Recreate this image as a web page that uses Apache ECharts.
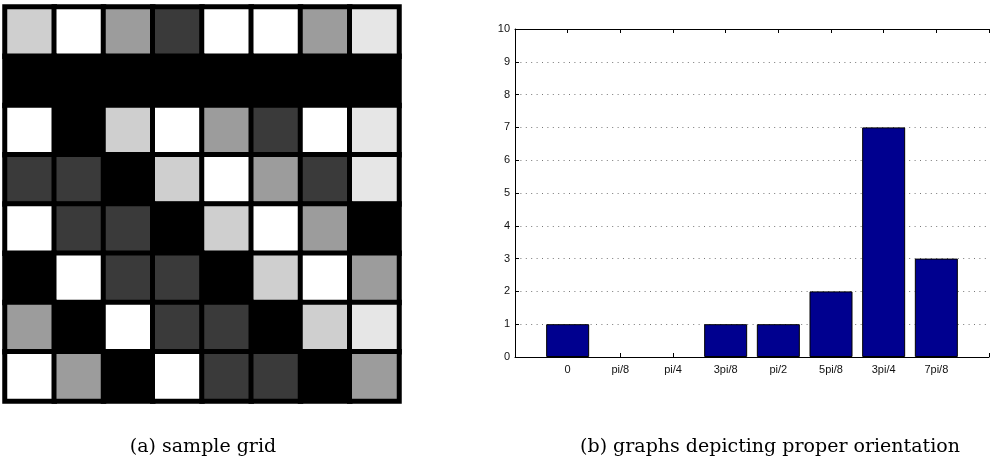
<!DOCTYPE html>
<html><head><meta charset="utf-8">
<script src="https://cdn.jsdelivr.net/npm/echarts@6/dist/echarts.min.js"></script>
<style>html,body{margin:0;padding:0;background:#fff;}#c{width:992px;height:466px;}</style>
</head><body><div id="c"></div>
<script>
// Grid shade levels: 0 black, 1 dark grey, 2 mid grey, 3 light grey, 4 very light grey, 5 white
const gridRow1 = [3, 5, 2, 1, 5, 5, 2, 4];
const gridRow2 = [0, 0, 0, 0, 0, 0, 0, 0];
const gridRow3 = [5, 0, 3, 5, 2, 1, 5, 4];
const gridRow4 = [1, 1, 0, 3, 5, 2, 1, 4];
const gridRow5 = [5, 1, 1, 0, 3, 5, 2, 0];
const gridRow6 = [0, 5, 1, 1, 0, 3, 5, 2];
const gridRow7 = [2, 0, 5, 1, 1, 0, 3, 4];
const gridRow8 = [5, 2, 0, 5, 1, 1, 0, 2];
const shadeColors = ['#000000', '#3a3a3a', '#9c9c9c', '#cfcfcf', '#e6e6e6', '#ffffff'];

const categories = ['0', 'pi/8', 'pi/4', '3pi/8', 'pi/2', '5pi/8', '3pi/4', '7pi/8'];
const counts = [1, 0, 0, 1, 1, 2, 7, 3];
const yTicks = [0, 1, 2, 3, 4, 5, 6, 7, 8, 9, 10];

const rows = [gridRow1, gridRow2, gridRow3, gridRow4, gridRow5, gridRow6, gridRow7, gridRow8];
const heatData = [];
rows.forEach((r, ri) => r.forEach((v, ci) => heatData.push([ci, ri, v])));

const chart = echarts.init(document.getElementById('c'), null, {renderer: 'canvas'});
const axisFont = {fontFamily: 'Liberation Sans, Arial, sans-serif', fontSize: 11, color: '#111'};
chart.setOption({
  animation: false,
  backgroundColor: '#fff',
  grid: [
    {left: 5, top: 7, width: 394, height: 394, show: true, backgroundColor: '#000', borderColor: '#000', borderWidth: 1},
    {left: 515, top: 29, width: 486, height: 328, show: false}
  ],
  xAxis: [
    {gridIndex: 0, type: 'category', data: [0,1,2,3,4,5,6,7], show: false},
    {gridIndex: 1, type: 'value', min: 0, max: 9, interval: 1,
      axisLine: {show: true, onZero: false, lineStyle: {color: '#000', width: 1}},
      axisTick: {show: true, inside: true, length: 4, lineStyle: {color: '#000'}},
      axisLabel: Object.assign({margin: 7, formatter: v => (v >= 1 && v <= categories.length) ? categories[v - 1] : ''}, axisFont),
      splitLine: {show: false}},
    {gridIndex: 1, type: 'value', position: 'top', min: 0, max: 9, interval: 1,
      axisLine: {show: true, onZero: false, lineStyle: {color: '#000', width: 1}},
      axisTick: {show: true, inside: true, length: 4, lineStyle: {color: '#000'}},
      axisLabel: {show: false}, splitLine: {show: false}}
  ],
  yAxis: [
    {gridIndex: 0, type: 'category', data: [0,1,2,3,4,5,6,7], inverse: true, show: false},
    {gridIndex: 1, type: 'value', min: yTicks[0], max: yTicks[yTicks.length - 1], interval: 1,
      axisLine: {show: true, onZero: false, lineStyle: {color: '#000', width: 1}},
      axisTick: {show: true, inside: true, length: 4, lineStyle: {color: '#000'}},
      axisLabel: Object.assign({margin: 5}, axisFont),
      splitLine: {show: true, lineStyle: {color: '#777', width: 1, type: [1, 4.4]}}}
  ],
  visualMap: {
    type: 'piecewise', show: false, seriesIndex: 0, dimension: 2,
    pieces: shadeColors.map((c, i) => ({value: i, color: c}))
  },
  series: [
    {type: 'heatmap', xAxisIndex: 0, yAxisIndex: 0, data: heatData,
      itemStyle: {borderColor: '#000', borderWidth: 5}},
    {type: 'bar', xAxisIndex: 1, yAxisIndex: 1, barWidth: 43,
      data: counts.map((v, i) => ({value: [i + 1, v], itemStyle: v === 0 ? {borderWidth: 0, opacity: 0} : undefined})),
      itemStyle: {color: '#00008f', borderColor: '#000', borderWidth: 1}}
  ],
  graphic: [
    {type: 'text', x: 203, y: 438, style: {text: '(a) sample grid', font: '19px "DejaVu Serif", serif', fill: '#000', textAlign: 'center', textVerticalAlign: 'top'}},
    {type: 'text', x: 770, y: 438, style: {text: '(b) graphs depicting proper orientation', font: '19px "DejaVu Serif", serif', fill: '#000', textAlign: 'center', textVerticalAlign: 'top'}}
  ]
});
</script></body></html>
